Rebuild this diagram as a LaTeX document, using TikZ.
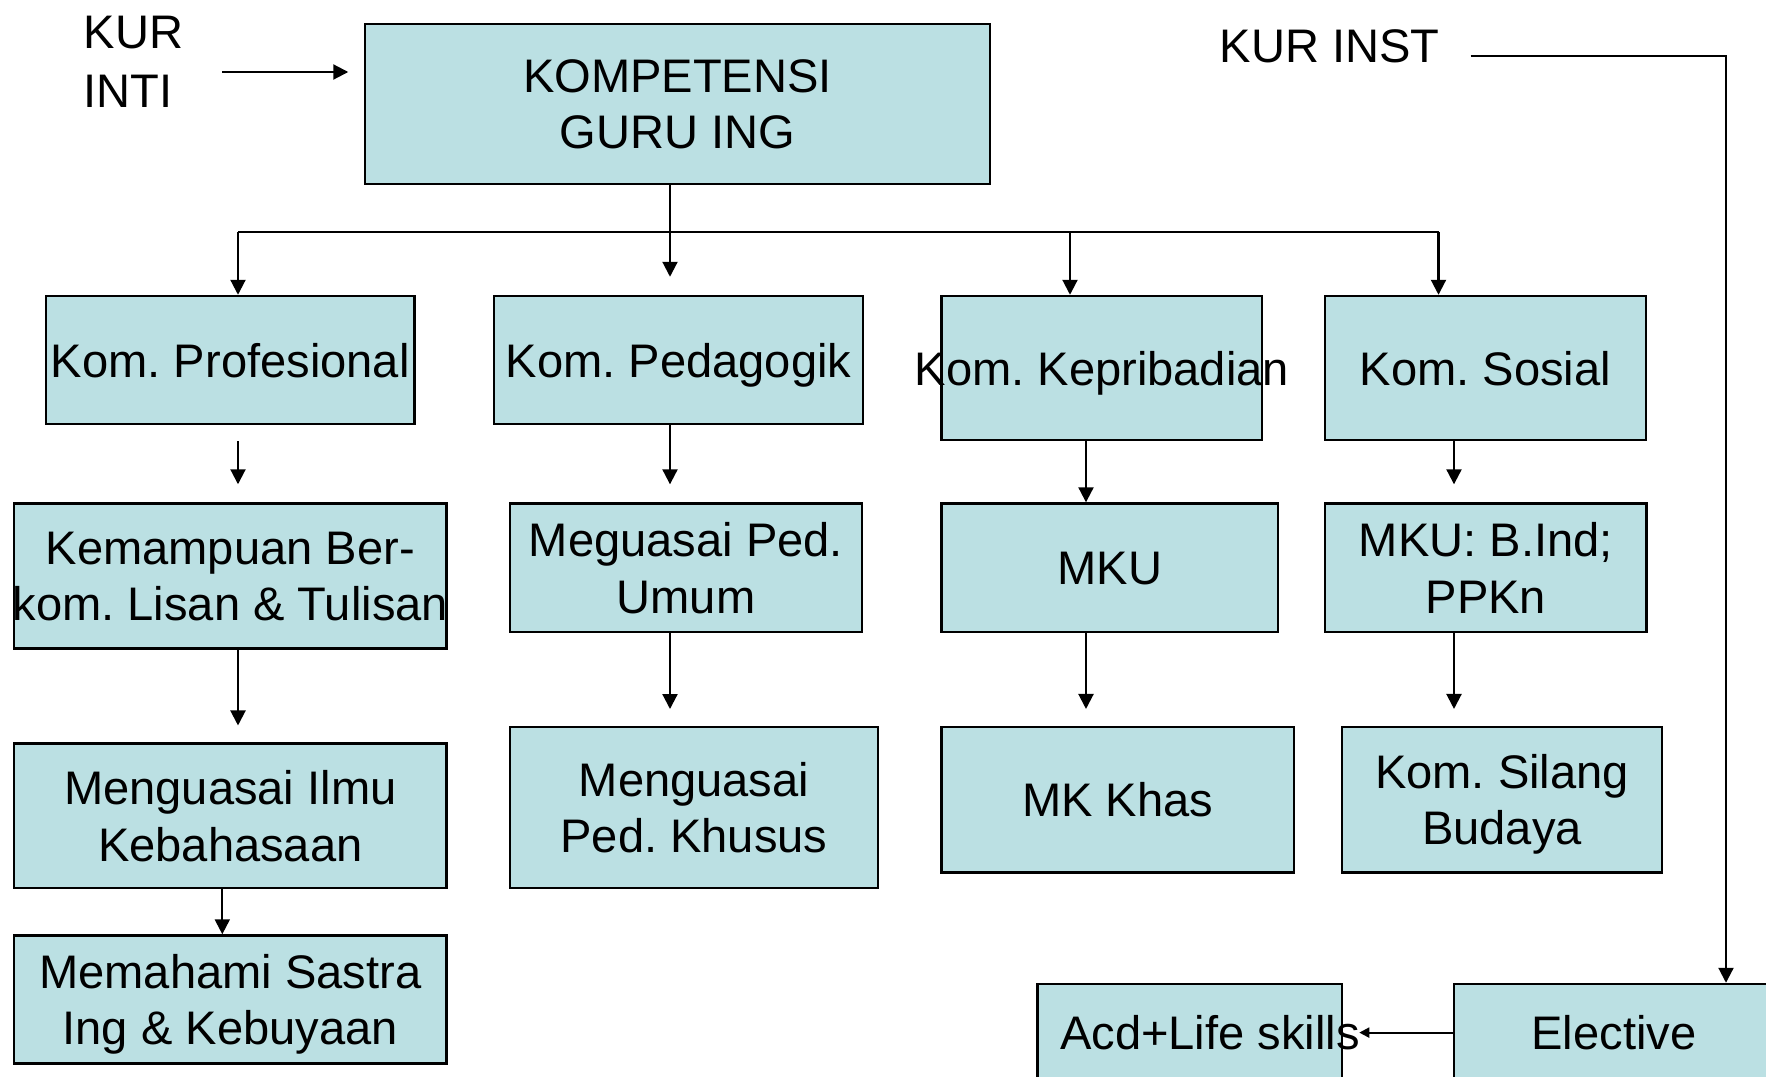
\documentclass[tikz,border=0pt]{standalone}
\usepackage{fontspec}
\setmainfont{Liberation Sans}
\usepackage{xcolor}
\usepackage{tikz}
\usetikzlibrary{calc,arrows.meta}
\definecolor{boxteal}{HTML}{BBE0E3}
\frenchspacing
\tikzset{
  kbox/.style={draw=black, fill=boxteal, line width=0.7pt, inner sep=0pt},
  ktext/.style={font=\fontsize{13.4}{16}\selectfont, align=center, inner sep=0pt, text depth=0pt},
  karrow/.style={line width=0.6pt, -{Triangle[length=0.15cm, width=0.15cm]}}
}

\begin{document}
\begin{tikzpicture}
      \useasboundingbox (0,0) rectangle (17.66,-10.77);
      \clip (0,0) rectangle (17.66,-10.77);
      \node[kbox, minimum width=6.25cm, minimum height=1.6cm,
        label={[ktext]center:{KOMPETENSI\\GURU ING}}] (kg) at (6.775,-1.04) {};
      \node[kbox, minimum width=3.685cm, minimum height=1.28cm,
        label={[ktext]center:{Kom. Profesional}}] (pro) at (2.303,-3.60) {};
      \node[kbox, minimum width=3.69cm, minimum height=1.28cm,
        label={[ktext]center:{Kom. Pedagogik}}] (ped) at (6.785,-3.60) {};
      \node[kbox, minimum width=3.205cm, minimum height=1.44cm,
        label={[ktext]center:{Kom. Kepribadian}}] (kep) at (11.018,-3.68) {};
      \node[kbox, minimum width=3.21cm, minimum height=1.44cm,
        label={[ktext]center:{Kom. Sosial}}] (sos) at (14.855,-3.68) {};
      \node[kbox, minimum width=4.325cm, minimum height=1.452cm,
        label={[ktext]center:{Kemampuan Ber-\\kom. Lisan \& Tulisan}}] (kem) at (2.303,-5.761) {};
      \node[kbox, minimum width=3.52cm, minimum height=1.287cm,
        label={[ktext]center:{Meguasai Ped.\\Umum}}] (umum) at (6.86,-5.679) {};
      \node[kbox, minimum width=3.365cm, minimum height=1.287cm,
        label={[ktext]center:{MKU}}] (mku) at (11.098,-5.679) {};
      \node[kbox, minimum width=3.215cm, minimum height=1.287cm,
        label={[ktext]center:{MKU: B.Ind;\\PPKn}}] (bind) at (14.858,-5.679) {};
      \node[kbox, minimum width=4.325cm, minimum height=1.444cm,
        label={[ktext]center:{Menguasai Ilmu\\Kebahasaan}}] (ilmu) at (2.303,-8.159) {};
      \node[kbox, minimum width=3.68cm, minimum height=1.609cm,
        label={[ktext]center:{Menguasai\\Ped. Khusus}}] (khus) at (6.94,-8.077) {};
      \node[kbox, minimum width=3.525cm, minimum height=1.452cm,
        label={[ktext]center:{MK Khas}}] (khas) at (11.178,-7.998) {};
      \node[kbox, minimum width=3.2cm, minimum height=1.452cm,
        label={[ktext]center:{Kom. Silang\\Budaya}}] (silang) at (15.02,-7.998) {};
      \node[kbox, minimum width=4.325cm, minimum height=1.28cm,
        label={[ktext]center:{Memahami Sastra\\Ing \& Kebuyaan}}] (sastra) at (2.303,-9.995) {};
      \node[kbox, minimum width=3.045cm, minimum height=2.16cm] (acd) at (11.898,-10.92) {};
      \node[kbox, minimum width=5.44cm, minimum height=2.16cm] (elec) at (17.26,-10.92) {};
      \node[ktext] (acdtx) at (12.10,-10.326) {Acd+Life skills};
      \node[ktext] (eltx) at (16.14,-10.326) {Elective};
      \node[ktext, align=left, anchor=west, font=\fontsize{13.4}{16.8}\selectfont]
        (kinti) at (0.83,-0.615) {KUR\\INTI};
      \node[ktext, anchor=west] (kinst) at (12.19,-0.465) {KUR INST};
      \coordinate (busL) at (2.38,-2.32);
      \coordinate (busM) at (6.70,-2.32);
      \coordinate (busK) at (10.70,-2.32);
      \coordinate (busR) at (14.385,-2.32);
      \coordinate (colK) at (10.86,-2.32);
      \coordinate (colS) at (14.54,-2.32);
      \coordinate (intiA) at (2.22,-0.72);
      \coordinate (instA) at (14.705,-0.56);
      \draw[line width=0.6pt] (busL) -- (busR);
      \draw[karrow, shorten >=0.18cm] (kg.south -| busM) -- (ped.north -| busM);
      \draw[karrow] (busL) -- (pro.north -| busL);
      \draw[karrow] (busK) -- (kep.north -| busK);
      \draw[karrow] (busR) -- (sos.north -| busR);
      \draw[karrow, shorten <=0.16cm, shorten >=0.18cm] (pro.south -| busL) -- (kem.north -| busL);
      \draw[karrow, shorten >=0.17cm] (kem.south -| busL) -- (ilmu.north -| busL);
      \draw[karrow] ([xshift=-0.08cm]ilmu.south) -- ([xshift=-0.08cm]sastra.north);
      \draw[karrow, shorten >=0.18cm] (ped.south -| busM) -- (umum.north -| busM);
      \draw[karrow, shorten >=0.17cm] (umum.south -| busM) -- (khus.north -| busM);
      \draw[karrow] (kep.south -| colK) -- (mku.north -| colK);
      \draw[karrow, shorten >=0.17cm] (mku.south -| colK) -- (khas.north -| colK);
      \draw[karrow, shorten >=0.18cm] (sos.south -| colS) -- (bind.north -| colS);
      \draw[karrow, shorten >=0.17cm] (bind.south -| colS) -- (silang.north -| colS);
      \draw[karrow, shorten >=0.155cm] (intiA) -- (intiA -| kg.west);
      \draw[karrow] (instA) -| (elec.north);
      \draw[line width=0.6pt, -{Triangle[length=0.1cm, width=0.1cm]}, shorten >=0.16cm]
        (elec.west |- eltx) -- (acd.east |- eltx);
    \end{tikzpicture}
\end{document}
